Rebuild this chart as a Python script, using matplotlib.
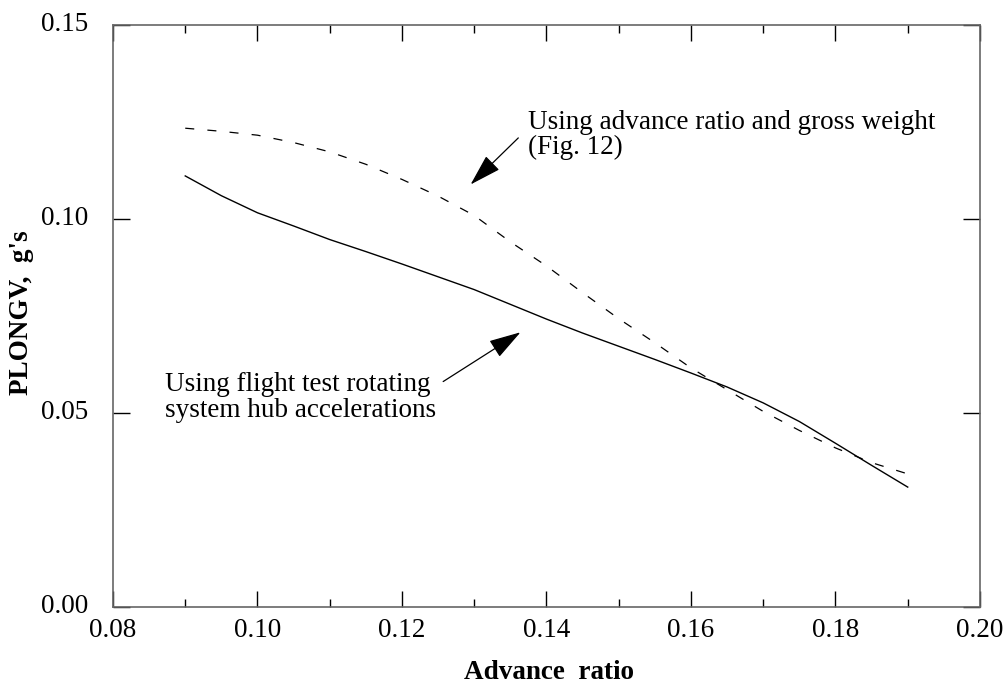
import matplotlib
matplotlib.use("Agg")
import matplotlib.pyplot as plt
from matplotlib.ticker import MultipleLocator
from matplotlib.transforms import ScaledTranslation

plt.rcParams['font.family'] = ['Liberation Serif', 'DejaVu Serif']
plt.rcParams['lines.scale_dashes'] = False

# advance ratio
mu = [0.090, 0.095, 0.100, 0.105, 0.110, 0.115, 0.120, 0.125, 0.130, 0.135, 0.140,
      0.145, 0.150, 0.155, 0.160, 0.165, 0.170, 0.175, 0.180, 0.185, 0.190]
# flight test rotating system hub accelerations
plongv_hub = [0.1111, 0.1060, 0.1016, 0.0982, 0.0947, 0.0916, 0.0884, 0.0851, 0.0818, 0.0780, 0.0742,
              0.0706, 0.0672, 0.0638, 0.0603, 0.0567, 0.0526, 0.0478, 0.0422, 0.0365, 0.0309]
# advance ratio and gross weight (Fig. 12)
plongv_gw = [0.1234, 0.1226, 0.1216, 0.1197, 0.1173, 0.1141, 0.1102, 0.1059, 0.1009, 0.0941, 0.0879,
             0.0810, 0.0743, 0.0681, 0.0616, 0.0560, 0.0504, 0.0455, 0.0410, 0.0372, 0.0343]

xticks = [0.08, 0.10, 0.12, 0.14, 0.16, 0.18, 0.20]
yticks = [0.00, 0.05, 0.10, 0.15]

fig = plt.figure(figsize=(10.08, 6.83), dpi=100)
ax = fig.add_axes([0.1121, 0.1113, 0.8601, 0.8521])

ax.plot(mu, plongv_hub, color='black', lw=1.0)
ax.plot(mu, plongv_gw, color='black', lw=0.9, linestyle=(0, (6.5, 9.5)))

ax.set_xlim(0.08, 0.20)
ax.set_ylim(0.0, 0.15)
ax.set_xticks(xticks)
ax.set_xticklabels(['%.2f' % t for t in xticks])
ax.set_yticks(yticks)
ax.set_yticklabels(['%.2f' % t for t in yticks])
ax.xaxis.set_minor_locator(MultipleLocator(0.01))

ax.tick_params(which='both', direction='in', top=True, right=True, labelsize=19.5, width=1.0, color='black')
ax.tick_params(axis='x', which='major', length=11.5, pad=8)
ax.tick_params(axis='x', which='minor', length=5.8)
ax.tick_params(axis='y', which='major', length=12, pad=18)
for s in ax.spines.values():
    s.set_color('#666666')
    s.set_linewidth(1.2)

# y tick labels sit a little above their ticks in the original
for lab in ax.get_yticklabels():
    lab.set_transform(lab.get_transform() + ScaledTranslation(0, 2.5 / 72, fig.dpi_scale_trans))

ax.set_xlabel('Advance  ratio', fontsize=19.5, fontweight='bold')
ax.set_ylabel("PLONGV,  g's", fontsize=19.5, fontweight='bold')
ax.xaxis.set_label_coords(0.503, -0.091)
ax.yaxis.set_label_coords(-0.091, 0.505)

arrow = dict(arrowstyle='-|>,head_length=1.0,head_width=0.3', color='black', lw=0.9,
             mutation_scale=20, shrinkA=0, shrinkB=0)
ax.annotate('', xy=(0.1295, 0.1089), xytext=(0.1361, 0.1209), arrowprops=arrow)
ax.annotate('', xy=(0.1364, 0.0708), xytext=(0.1257, 0.0581), arrowprops=arrow)

ax.text(0.1374, 0.1281, 'Using advance ratio and gross weight\n(Fig. 12)',
        fontsize=19.5, ha='left', va='top', linespacing=1.0)
ax.text(0.0872, 0.0606, 'Using flight test rotating\nsystem hub accelerations',
        fontsize=19.5, ha='left', va='top', linespacing=1.05)

fig.savefig('out.png', dpi=100)
